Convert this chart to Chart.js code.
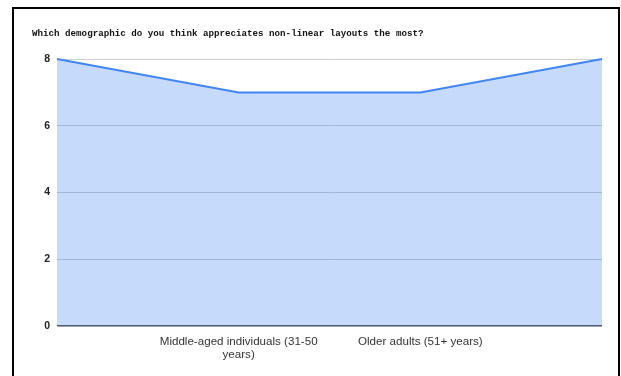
<!DOCTYPE html>
<html>
<head>
<meta charset="utf-8">
<script src="https://cdn.jsdelivr.net/npm/chart.js@4/dist/chart.umd.min.js"></script>
<style>
  html, body { margin: 0; padding: 0; background: #fff; }
  #wrap { position: relative; width: 621px; height: 376px; overflow: hidden; }
  #frame {
    position: absolute; left: 12px; top: 7px; width: 604px; height: 400px;
    border: 2px solid #000; border-bottom: none; box-sizing: content-box;
  }
  canvas { position: absolute; left: 0; top: 0; }
</style>
</head>
<body>
<div id="wrap">
  <div id="frame"></div>
  <canvas id="c" width="621" height="376"></canvas>
</div>
<script>
// Survey responses per age group
const categories = [
  '',
  ['Middle-aged individuals (31-50', 'years)'],
  'Older adults (51+ years)',
  ''
];
const responses = [8, 7, 7, 8];
const yTicks = [0, 2, 4, 6, 8];

const chartTitle = 'Which demographic do you think appreciates non-linear layouts the most?';

new Chart(document.getElementById('c'), {
  type: 'line',
  data: {
    labels: categories,
    datasets: [{
      data: responses,
      borderColor: '#4285f4',
      borderWidth: 2,
      backgroundColor: 'rgba(66,133,244,0.3)',
      fill: 'origin',
      pointRadius: 0,
      tension: 0,
      clip: 4
    }]
  },
  options: {
    responsive: false,
    animation: false,
    layout: { padding: { top: 28, left: 32, right: 19, bottom: 0 } },
    plugins: {
      legend: { display: false },
      tooltip: { enabled: false },
      title: {
        display: true,
        text: chartTitle,
        align: 'start',
        color: '#111',
        font: { family: '"Liberation Mono", "Courier New", monospace', size: 9.2, weight: 'bold' },
        padding: { top: 0, bottom: 20 }
      }
    },
    scales: {
      x: {
        offset: false,
        grid: { display: false, drawTicks: false },
        border: { display: false },
        ticks: {
          autoSkip: false,
          maxRotation: 0,
          padding: 9,
          color: '#333',
          font: { family: '"Liberation Sans", Arial, sans-serif', size: 11.6, lineHeight: 1.15 }
        },
        afterFit: s => { s.height = 50; }
      },
      y: {
        min: 0,
        max: 8,
        afterBuildTicks: s => { s.ticks = yTicks.map(v => ({ value: v })); },
        grid: {
          drawTicks: false,
          color: ctx => ctx.tick && ctx.tick.value === 0 ? '#4a4a4a' : '#cccccc',
          lineWidth: ctx => ctx.tick && ctx.tick.value === 0 ? 1.5 : 1
        },
        border: { display: false },
        ticks: {
          padding: 7,
          color: '#222',
          font: { family: '"Liberation Sans", Arial, sans-serif', size: 10.5, weight: 'bold' }
        },
        afterFit: s => { s.width = 25; }
      }
    }
  }
});
</script>
</body>
</html>
